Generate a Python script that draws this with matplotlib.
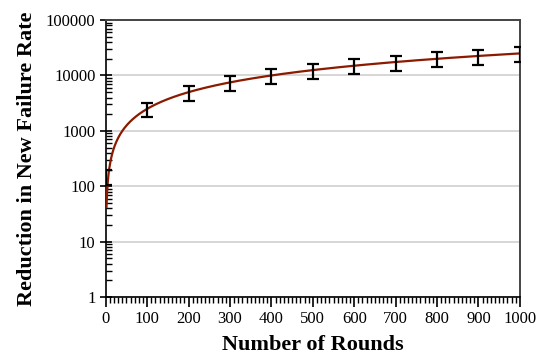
#!/usr/bin/env python3
"""plot_failure_rate.py"""

import matplotlib
matplotlib.use("Agg")
import matplotlib.pyplot as plt
from matplotlib.ticker import FixedLocator, MultipleLocator, LogLocator, NullFormatter
import numpy as np

rounds = [0, 100, 200, 300, 400, 500, 600, 700, 800, 900, 1000]
reduction = [150, 2500, 5000, 7500, 10000, 12500, 15000, 17500, 20000, 22500, 25000]
reduction_err = [45, 750, 1500, 2250, 3000, 3750, 4500, 5250, 6000, 6750, 7500]
y_ticks = [1, 10, 100, 1000, 10000, 100000]
fit_start = 1.7


def plot(ax):
    x = np.array(rounds, dtype=float)
    y = np.array(reduction, dtype=float)
    # least squares line through the origin
    slope = np.sum(x * y) / np.sum(x * x)
    xs = np.linspace(fit_start, 1000, 600)
    ax.plot(xs, slope * xs, color='#8b1a00', linewidth=1.6, zorder=3)

    ax.errorbar(rounds, reduction, yerr=reduction_err, fmt='none', ecolor='black',
                elinewidth=1.6, capsize=4.5, capthick=1.6, zorder=4)

    ax.set_yscale('log')
    ax.set_ylim(1, 100000)
    ax.set_xlim(0, 1000)
    ax.yaxis.set_major_locator(FixedLocator(y_ticks))
    ax.set_yticklabels([str(t) for t in y_ticks])
    ax.yaxis.set_minor_locator(LogLocator(base=10, subs=np.arange(2, 10)))
    ax.yaxis.set_minor_formatter(NullFormatter())
    ax.xaxis.set_major_locator(MultipleLocator(100))
    ax.xaxis.set_minor_locator(MultipleLocator(10))

    ax.grid(axis='y', which='major', color='#d0d0d0', linewidth=1.2)
    ax.set_axisbelow(True)

    ax.tick_params(axis='y', which='major', direction='inout', length=9, width=1.2,
                   labelsize=12, pad=3)
    ax.tick_params(axis='y', which='minor', direction='in', length=4, width=1.0)
    ax.tick_params(axis='x', which='major', direction='out', length=7, width=1.2,
                   labelsize=12, pad=3)
    ax.tick_params(axis='x', which='minor', direction='out', length=4, width=1.0)

    for side in ['left', 'bottom']:
        ax.spines[side].set_color('black')
        ax.spines[side].set_linewidth(1.2)
    for side in ['top', 'right']:
        ax.spines[side].set_color('#444444')
        ax.spines[side].set_linewidth(1.4)

    ax.set_xlabel('Number of Rounds', fontsize=16, fontweight='bold', labelpad=6)
    ax.set_ylabel('Reduction in New Failure Rate', fontsize=16, fontweight='bold', labelpad=6)


def main():
    plt.rcParams['font.family'] = ['Liberation Serif', 'DejaVu Serif']
    fig = plt.figure(figsize=(5.37, 3.58), dpi=100)
    ax = fig.add_axes([0.197, 0.170, 0.771, 0.774])
    plot(ax)
    fig.savefig('out.png', dpi=100)


if __name__ == "__main__":
    main()
